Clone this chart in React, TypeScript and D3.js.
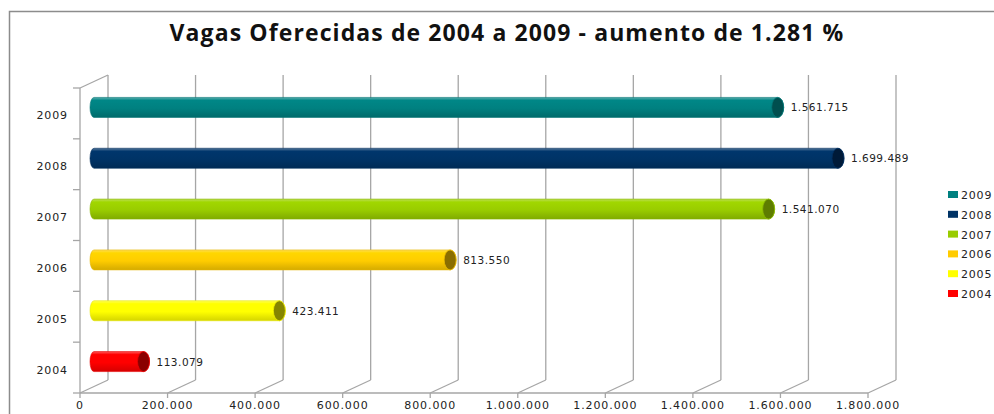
import React, { useEffect, useRef } from 'react';
import * as d3 from 'd3';

const years = ['2009', '2008', '2007', '2006', '2005', '2004'];
const vagas = [1561715, 1699489, 1541070, 813550, 423411, 113079];
const barColors = ['#008080', '#003366', '#99CC00', '#FFCC00', '#FFFF00', '#FF0000'];
const capColors = ['#004f4f', '#001a38', '#5e7d00', '#8a6e00', '#858500', '#8a0000'];
const xTicks = [0, 200000, 400000, 600000, 800000, 1000000, 1200000, 1400000, 1600000, 1800000];
const title = 'Vagas Oferecidas de 2004 a 2009 - aumento de 1.281 %';

const fmt = (v: number) => v.toLocaleString('en-US').replace(/,/g, '.');

export default function App() {
  const ref = useRef<SVGSVGElement>(null);

  useEffect(() => {
    const svg = d3.select(ref.current);
    svg.selectAll('*').remove();

    const W = 994, H = 414;
    const dx = 28, dy = -13; // 3d depth offset
    const x = d3.scaleLinear().domain([0, 1800000]).range([80, 868]);
    const y = d3.scaleBand().domain(years).range([88, 393]);
    const grid = '#a6a6a6';

    // chart border
    svg.append('rect')
      .attr('x', 9.5).attr('y', 11.5)
      .attr('width', W + 20).attr('height', H + 20)
      .attr('fill', 'white').attr('stroke', '#8c8c8c').attr('stroke-width', 1.5);

    svg.append('text')
      .attr('x', 507).attr('y', 41)
      .attr('text-anchor', 'middle')
      .style('font-family', '"Open Sans", sans-serif')
      .style('font-weight', 'bold')
      .style('font-size', '23px')
      .style('letter-spacing', '1.1px')
      .attr('fill', '#111')
      .text(title);

    const g = svg.append('g');
    const y0 = y.range()[0], y1 = y.range()[1];

    // back wall gridlines
    g.selectAll('line.back').data(xTicks).enter().append('line')
      .attr('x1', (d) => x(d) + dx).attr('x2', (d) => x(d) + dx)
      .attr('y1', y1 + dy).attr('y2', y0 + dy)
      .attr('stroke', grid).attr('stroke-width', 1.3);

    // floor diagonals
    g.selectAll('line.floor').data(xTicks).enter().append('line')
      .attr('x1', (d) => x(d)).attr('x2', (d) => x(d) + dx)
      .attr('y1', y1).attr('y2', y1 + dy)
      .attr('stroke', grid).attr('stroke-width', 1.3);

    // front x axis
    g.append('line')
      .attr('x1', x(0)).attr('x2', x(1800000))
      .attr('y1', y1).attr('y2', y1)
      .attr('stroke', grid).attr('stroke-width', 1.3);
    g.selectAll('line.xt').data(xTicks).enter().append('line')
      .attr('x1', (d) => x(d)).attr('x2', (d) => x(d))
      .attr('y1', y1).attr('y2', y1 + 5)
      .attr('stroke', grid).attr('stroke-width', 1.3);

    // left wall
    g.append('line')
      .attr('x1', x(0)).attr('x2', x(0)).attr('y1', y0).attr('y2', y1)
      .attr('stroke', grid).attr('stroke-width', 1.3);
    g.append('line')
      .attr('x1', x(0)).attr('x2', x(0) + dx).attr('y1', y0).attr('y2', y0 + dy)
      .attr('stroke', grid).attr('stroke-width', 1.3);
    const bounds = years.map((d) => y(d) as number).concat([y1]);
    g.selectAll('line.yt').data(bounds).enter().append('line')
      .attr('x1', x(0) - 7).attr('x2', x(0))
      .attr('y1', (d) => d).attr('y2', (d) => d)
      .attr('stroke', grid).attr('stroke-width', 1.3);

    // axis labels
    g.selectAll('text.xl').data(xTicks).enter().append('text')
      .attr('x', (d) => x(d)).attr('y', 409)
      .attr('text-anchor', 'middle')
      .style('font-family', '"DejaVu Sans", sans-serif')
      .style('font-size', '11px').style('letter-spacing', '0.9px')
      .attr('fill', '#222')
      .text((d) => fmt(d));

    g.selectAll('text.yl').data(years).enter().append('text')
      .attr('x', 68).attr('y', (d) => (y(d) as number) + y.bandwidth() / 2 + 6)
      .attr('text-anchor', 'end')
      .style('font-family', '"DejaVu Sans", sans-serif')
      .style('font-size', '11px').style('letter-spacing', '0.9px')
      .attr('fill', '#222')
      .text((d) => d);

    // gradients
    const defs = svg.append('defs');
    barColors.forEach((c, i) => {
      const lg = defs.append('linearGradient')
        .attr('id', 'grad' + i).attr('x1', 0).attr('x2', 0).attr('y1', 0).attr('y2', 1);
      const base = d3.color(c) as d3.RGBColor;
      lg.append('stop').attr('offset', '0%').attr('stop-color', d3.interpolateRgb(c, '#ffffff')(0.35));
      lg.append('stop').attr('offset', '15%').attr('stop-color', base.brighter(0.15).toString());
      lg.append('stop').attr('offset', '55%').attr('stop-color', c);
      lg.append('stop').attr('offset', '100%').attr('stop-color', base.darker(0.5).toString());
    });

    // bars as cylinders
    const h = 20, rx = 6;
    years.forEach((yr, i) => {
      const cy = (y(yr) as number) + y.bandwidth() / 2 + dy / 2 + 0.5;
      const xs = x(0) + dx / 2 - 4;
      const xe = x(vagas[i]) + dx / 2;
      const top = cy - h / 2, bot = cy + h / 2;
      g.append('path')
        .attr('d', `M${xs + 4},${top} L${xe},${top} A${rx},${h / 2} 0 0 1 ${xe},${bot} L${xs + 4},${bot} A4,${h / 2} 0 0 1 ${xs + 4},${top} Z`)
        .attr('fill', `url(#grad${i})`)
        .attr('stroke', d3.color(barColors[i])!.darker(0.3).toString())
        .attr('stroke-width', 0.6);
      g.append('ellipse')
        .attr('cx', xe).attr('cy', cy).attr('rx', rx).attr('ry', h / 2)
        .attr('fill', capColors[i])
        .attr('stroke', d3.color(barColors[i])!.darker(0.2).toString())
        .attr('stroke-width', 0.8);
      g.append('text')
        .attr('x', xe + 13).attr('y', cy + 4)
        .style('font-family', '"DejaVu Sans", sans-serif')
        .style('font-size', '10.5px').style('letter-spacing', '0.5px')
        .attr('fill', '#222')
        .text(fmt(vagas[i]));
    });

    // legend
    const lg = g.append('g');
    years.forEach((yr, i) => {
      const ly = 195 + i * 19.8;
      lg.append('rect').attr('x', 948).attr('y', ly - 4).attr('width', 10).attr('height', 7)
        .attr('fill', barColors[i]);
      lg.append('text').attr('x', 961).attr('y', ly + 4)
        .style('font-family', '"DejaVu Sans", sans-serif')
        .style('font-size', '11px').style('letter-spacing', '0.8px')
        .attr('fill', '#222').text(yr);
    });
  }, []);

  return (
    <svg ref={ref} width={994} height={414}
      style={{ position: 'absolute', left: 0, top: 0, background: 'white' }} />
  );
}
